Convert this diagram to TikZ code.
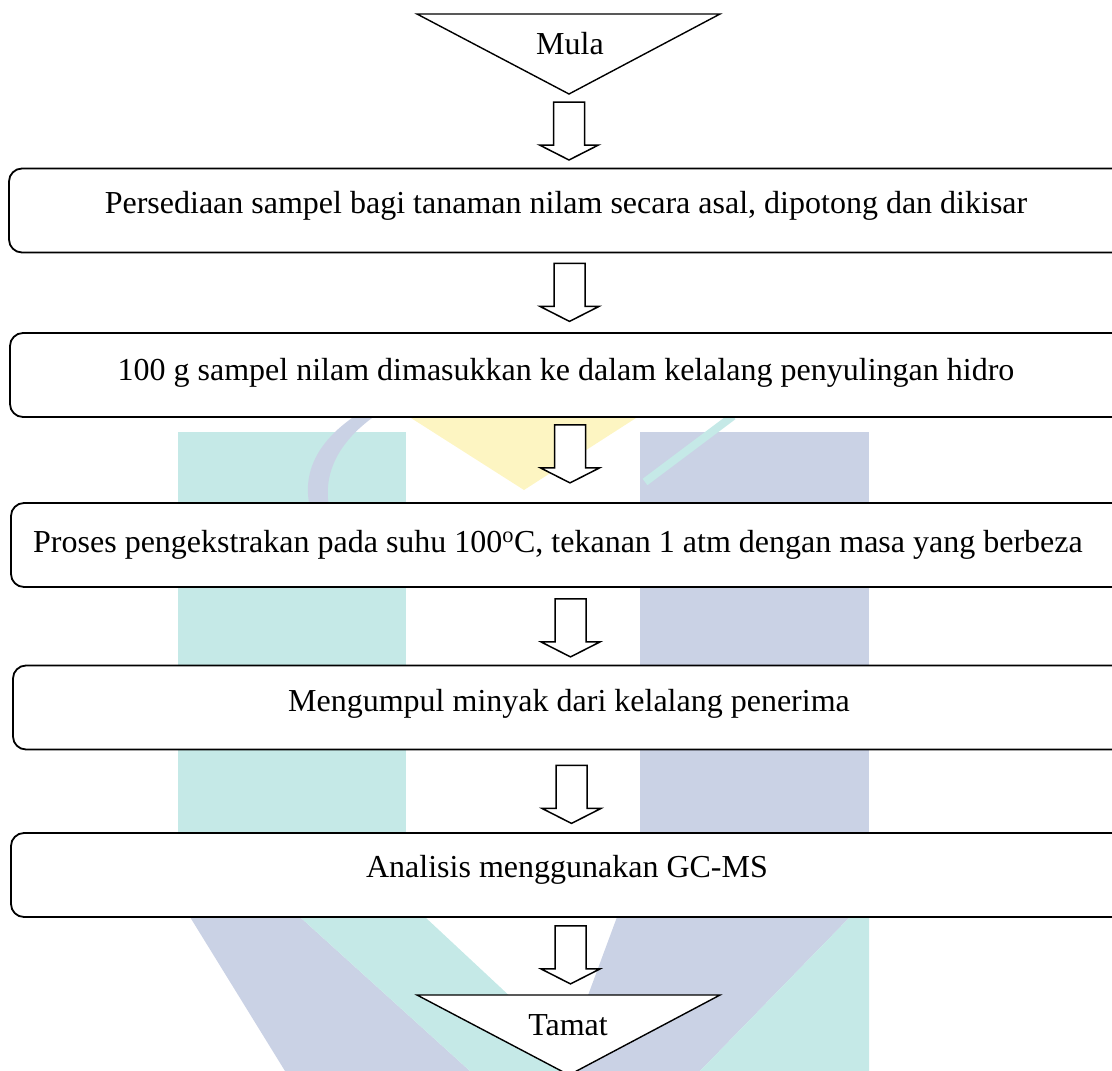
\documentclass[tikz,border=0pt]{standalone}
\usepackage{fontspec}
\setmainfont{Liberation Serif}
\usetikzlibrary{calc}

\definecolor{wmteal}{HTML}{C5E9E7}
\definecolor{wmlav}{HTML}{CAD2E5}
\definecolor{wmyel}{HTML}{FDF5C2}

\tikzset{
  stepbox/.style={draw, line width=1.8pt, rounded corners=13pt, fill=white,
    inner sep=0pt, minimum height=84pt},
  steptext/.style={anchor=base, inner sep=0pt, font=\fontsize{32}{38}\selectfont},
  terminal/.style={draw, line width=1.4pt, fill=white, line join=miter},
  blockarrow/.style={draw, line width=1.5pt, fill=white, line join=miter},
  pics/downarrow/.style={code={
    \draw[blockarrow] (-15.5,0) -- (15.5,0) -- (15.5,43) -- (29.5,43)
      -- (0,58) -- (-29.5,43) -- (-15.5,43) -- cycle;
  }},
}

\begin{document}
\begin{tikzpicture}[x=1pt, y=-1pt]
  \useasboundingbox (0,0) rectangle (1112,1071);
  \clip (0,0) rectangle (1112,1071);

  % faint background emblem
  \fill[wmteal] (178,432) rectangle (406,917);
  \fill[wmlav] (640,432) rectangle (869,917);
  \fill[wmyel] (411,418) -- (636,418) -- (524,490) -- cycle;
  \fill[wmlav] (352,418) .. controls (300,455) and (298,500) .. (325,540)
    -- (342,540) .. controls (318,500) and (322,455) .. (372,418) -- cycle;
  \draw[wmteal, line width=8pt] (733,416) -- (645,482);
  \fill[wmlav] (190,917) -- (300,917) -- (470,1071) -- (285,1071) -- cycle;
  \fill[wmteal] (300,917) -- (425,917) -- (590,1071) -- (470,1071) -- cycle;
  \fill[wmlav] (617,917) -- (850,917) -- (700,1071) -- (560,1071) -- cycle;
  \fill[wmteal] (850,917) -- (869,917) -- (869,1071) -- (700,1071) -- cycle;

  % start terminal
  \draw[terminal] (417,14) coordinate (s1) -- (720,14) coordinate (s2)
    -- (569,94) coordinate (s3) -- cycle;
  \node[steptext] (mula) at (570,54) {Mula};

  % process steps
  \node[stepbox, minimum width=1121pt] (b1) at (569.5,210.5) {};
  \node[steptext] (t1) at (566,213)
    {Persediaan sampel bagi tanaman nilam secara asal, dipotong dan dikisar};

  \node[stepbox, minimum width=1120pt] (b2) at (570,375) {};
  \node[steptext] (t2) at (566,380)
    {100 g sampel nilam dimasukkan ke dalam kelalang penyulingan hidro};

  \node[stepbox, minimum width=1119pt] (b3) at (570.5,545) {};
  \node[steptext] (t3) at (558,552)
    {Proses pengekstrakan pada suhu 100\textsuperscript{o}C, tekanan 1 atm dengan masa yang berbeza};

  \node[stepbox, minimum width=1117pt] (b4) at (571.5,707.5) {};
  \node[steptext] (t4) at (569,711) {Mengumpul minyak dari kelalang penerima};

  \node[stepbox, minimum width=1119pt] (b5) at (570.5,875) {};
  \node[steptext] (t5) at (567,877) {Analisis menggunakan GC-MS};

  % end terminal
  \draw[terminal] (417,995) coordinate (e1) -- (720,995) coordinate (e2)
    -- (569,1075) coordinate (e3) -- cycle;
  \node[steptext] (tamat) at (568,1035) {Tamat};

  % block arrows between the stages
  \pic at ($(s3)+(0,8)$) {downarrow};
  \pic at ($(b1.south)+(0,10)$) {downarrow};
  \pic at ($(b2.south)+(0,7)$) {downarrow};
  \pic at ($(b3.south)+(0,11)$) {downarrow};
  \pic at ($(b4.south)+(0,15)$) {downarrow};
  \pic at ($(b5.south)+(0,8)$) {downarrow};
\end{tikzpicture}
\end{document}
